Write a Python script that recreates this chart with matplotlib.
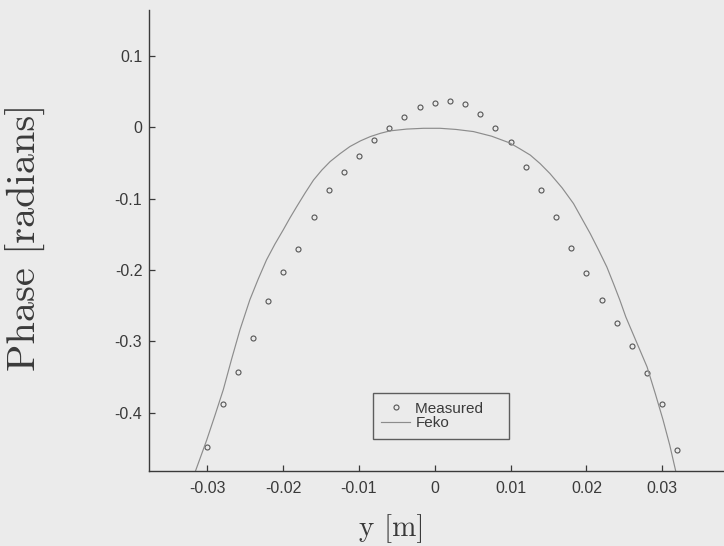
import numpy as np
import matplotlib
matplotlib.use('Agg')
from matplotlib import pyplot as plt


# measured phase
meas_y = [-0.030, -0.028, -0.026, -0.024, -0.022, -0.020, -0.018, -0.016,
          -0.014, -0.012, -0.010, -0.008, -0.006, -0.004, -0.002, 0.000,
          0.002, 0.004, 0.006, 0.008, 0.010, 0.012, 0.014, 0.016,
          0.018, 0.020, 0.022, 0.024, 0.026, 0.028, 0.030, 0.032]
meas_phase = [-0.448, -0.388, -0.343, -0.296, -0.243, -0.203, -0.171, -0.126,
              -0.088, -0.062, -0.040, -0.018, -0.001, 0.014, 0.029, 0.034,
              0.037, 0.032, 0.019, -0.001, -0.021, -0.056, -0.088, -0.126,
              -0.169, -0.205, -0.242, -0.274, -0.307, -0.344, -0.388, -0.452]

# Feko simulation curve (points picked along the drawn line)
feko_y = [-0.0316, -0.0301, -0.0290, -0.0279, -0.0268, -0.0257, -0.0244,
          -0.0233, -0.0222, -0.0211, -0.0200, -0.0191, -0.0182, -0.0171,
          -0.0160, -0.0149, -0.0138, -0.0125, -0.0112, -0.0098, -0.0085,
          -0.0072, -0.0059, -0.0037, -0.0015, 0.0007, 0.0028, 0.0051,
          0.0075, 0.0099, 0.0112, 0.0126, 0.0139, 0.0152, 0.0168, 0.0183,
          0.0194, 0.0205, 0.0216, 0.0227, 0.0236, 0.0244, 0.0252, 0.0266,
          0.0280, 0.0291, 0.0301, 0.0310, 0.0318]
feko_phase = [-0.483, -0.439, -0.404, -0.368, -0.325, -0.284, -0.242,
              -0.213, -0.186, -0.164, -0.144, -0.127, -0.111, -0.092,
              -0.074, -0.060, -0.048, -0.037, -0.027, -0.019, -0.013,
              -0.0085, -0.005, -0.0025, -0.0014, -0.0014, -0.003, -0.006,
              -0.0125, -0.022, -0.030, -0.039, -0.051, -0.065, -0.085, -0.107,
              -0.128, -0.149, -0.172, -0.196, -0.220, -0.242, -0.266, -0.301,
              -0.336, -0.374, -0.410, -0.446, -0.483]

xticks = [-0.03, -0.02, -0.01, 0, 0.01, 0.02, 0.03]
xticklabels = ['-0.03', '-0.02', '-0.01', '0', '0.01', '0.02', '0.03']
yticks = [-0.4, -0.3, -0.2, -0.1, 0, 0.1]
yticklabels = ['-0.4', '-0.3', '-0.2', '-0.1', '0', '0.1']

W, H = 724, 546
bg = '#ebebeb'
ink = '#3a3a3a'

fig = plt.figure(figsize=(W / 100, H / 100), dpi=100, facecolor=bg)
ax = fig.add_axes([149.3 / W, 1 - 471.2 / H, (W - 149.3) / W, (471.2 - 10) / H])
ax.set_facecolor(bg)

ax.plot(meas_y, meas_phase, 'o', ls='none', ms=3.6, mfc='none', mec='#555555',
        mew=0.8, label='Measured\u00a0\u00a0\u00a0\u00a0')
ax.plot(feko_y, feko_phase, '-', color='#8c8c8c', lw=0.85, label='Feko')

ax.set_xlim(-0.03766, 0.03815)
ax.set_ylim(-0.4823, 0.1645)

for s in ['top', 'right']:
    ax.spines[s].set_visible(False)
for s in ['left', 'bottom']:
    ax.spines[s].set_color(ink)
    ax.spines[s].set_linewidth(1.0)

ax.set_xticks(xticks)
ax.set_xticklabels(xticklabels)
ax.set_yticks(yticks)
ax.set_yticklabels(yticklabels)
ax.tick_params(direction='in', length=4, width=0.9, color=ink, labelcolor=ink,
               labelsize=11.5)
ax.tick_params(axis='x', pad=7)
ax.tick_params(axis='y', pad=5)
for lab in ax.get_xticklabels() + ax.get_yticklabels():
    lab.set_fontfamily('Liberation Sans')

fig.text(392 / W, 1 - 529 / H, 'y [m]', family='cmr10', fontsize=21,
         color=ink, ha='center', va='center')
fig.text(26 / W, 1 - 237 / H, 'Phase [radians]', family='cmr10', fontsize=29,
         color=ink, ha='center', va='center', rotation=90)

leg = ax.legend(loc='upper left', bbox_to_anchor=(372.7 / W, 1 - 393.3 / H),
                bbox_transform=fig.transFigure, borderaxespad=0,
                prop={'family': 'Liberation Sans', 'size': 11},
                frameon=True, fancybox=False, labelspacing=0.05,
                handlelength=1.9, handletextpad=0.35, borderpad=0.55)
leg.get_frame().set_edgecolor(ink)
leg.get_frame().set_facecolor(bg)
leg.get_frame().set_linewidth(1.0)
for t in leg.get_texts():
    t.set_color(ink)

plt.savefig('out.png', dpi=100, facecolor=bg)
